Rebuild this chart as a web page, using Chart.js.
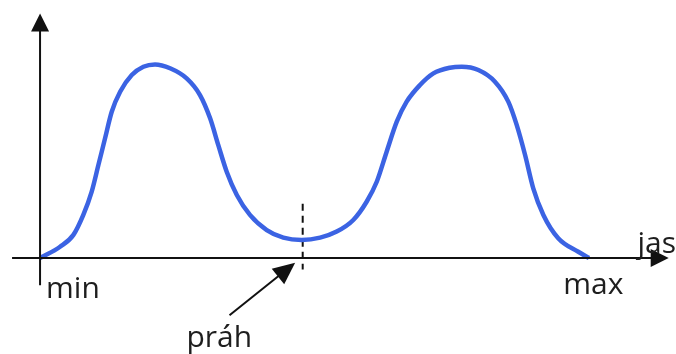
<!DOCTYPE html>
<html>
<head>
<meta charset="utf-8">
<script src="https://cdn.jsdelivr.net/npm/chart.js@4"></script>
<style>
  html, body { margin: 0; padding: 0; background: #fff; }
  #wrap { width: 676px; height: 354px; }
</style>
</head>
<body>
<div id="wrap"><canvas id="graf"></canvas></div>
<script>
// histogram jasu (brightness 0..255, frequency in relative units)
const jas = [0, 9.3, 15.5, 20.1, 24, 27.1, 30.2, 33.3, 37.2, 42.6, 48, 53.4, 60.4, 68.1, 74.3, 79, 82.8, 86.7,
             91.4, 97.5, 105.3, 113, 121.5, 130.1, 137.8, 145.5, 151.7, 156.4, 161, 165.7, 170.3, 176.5, 182.7,
             190.4, 195.9, 203.6, 211.3, 217.5, 221.4, 225.3, 229.1, 233.8, 240.7, 250, 255];
const cetnost = [0, 5.8, 11.9, 22.2, 34.2, 47.9, 61.7, 75.4, 85.7, 94.3, 98.6, 99.8, 97.8, 92.6, 84, 72, 58.2, 44.5,
                 32.5, 22.2, 14.4, 10.5, 9.3, 10.5, 13.6, 19.6, 29, 39.3, 54.8, 70.3, 80.6, 89.2, 95.2,
                 98.1, 98.6, 96.9, 90.9, 80.6, 68.6, 53.1, 35.9, 22.2, 10.2, 3.2, 0];
const prah = 122;
const popisky = { min: "min", max: "max", osa: "jas", prah: "práh" };

const modra = "#3b63e3";
const cerna = "#111";

// osy se sipkami a popisky
const osyPlugin = {
    id: "osy",
    afterDatasetsDraw(chart) {
        const { ctx, scales: { x, y } } = chart;
        const x0 = x.getPixelForValue(0);
        const y0 = y.getPixelForValue(0);
        ctx.save();
        ctx.strokeStyle = cerna;
        ctx.fillStyle = cerna;
        ctx.lineWidth = 2;

        // vodorovna osa
        const xL = x.getPixelForValue(-13), xR = x.getPixelForValue(292);
        ctx.beginPath(); ctx.moveTo(xL, y0); ctx.lineTo(xR - 14, y0); ctx.stroke();
        ctx.beginPath(); ctx.moveTo(xR, y0); ctx.lineTo(xR - 18, y0 - 9); ctx.lineTo(xR - 18, y0 + 9); ctx.closePath(); ctx.fill();

        // svisla osa
        const yB = y.getPixelForValue(-14), yT = y.getPixelForValue(126);
        ctx.beginPath(); ctx.moveTo(x0, yB); ctx.lineTo(x0, yT + 14); ctx.stroke();
        ctx.beginPath(); ctx.moveTo(x0, yT); ctx.lineTo(x0 - 9, yT + 18); ctx.lineTo(x0 + 9, yT + 18); ctx.closePath(); ctx.fill();

        // sipka k prahu
        const ax = x.getPixelForValue(88), ay = y.getPixelForValue(-29.5);
        const bx = x.getPixelForValue(118.5), by = y.getPixelForValue(-2.5);
        const ang = Math.atan2(by - ay, bx - ax);
        const c = Math.cos(ang), s = Math.sin(ang);
        ctx.beginPath(); ctx.moveTo(ax, ay);
        ctx.lineTo(bx - 16 * c, by - 16 * s); ctx.stroke();
        ctx.beginPath(); ctx.moveTo(bx, by);
        ctx.lineTo(bx - 22 * c + 10 * s, by - 22 * s - 10 * c);
        ctx.lineTo(bx - 22 * c - 10 * s, by - 22 * s + 10 * c);
        ctx.closePath(); ctx.fill();

        // popisky
        ctx.fillStyle = "#1e1e1e";
        ctx.font = "30px 'Open Sans'";
        ctx.textBaseline = "alphabetic";
        ctx.textAlign = "left";
        ctx.fillText(popisky.min, x0 + 6, y.getPixelForValue(-20.5));
        ctx.fillText(popisky.max, x.getPixelForValue(243), y.getPixelForValue(-18.5));
        ctx.fillText(popisky.osa, x.getPixelForValue(277.5), y.getPixelForValue(2.5));
        ctx.fillText(popisky.prah, x.getPixelForValue(68), y.getPixelForValue(-46));
        ctx.restore();
    }
};

new Chart(document.getElementById("graf"), {
    type: "line",
    data: {
        datasets: [{
            data: jas.map((v, i) => ({ x: v, y: cetnost[i] })),
            borderColor: modra,
            borderWidth: 4.5,
            pointRadius: 0,
            cubicInterpolationMode: "monotone",
            fill: false
        }, {
            data: [{ x: prah, y: 28 }, { x: prah, y: -6 }],
            borderColor: cerna,
            borderWidth: 2,
            borderDash: [7, 5],
            pointRadius: 0
        }]
    },
    options: {
        responsive: true, maintainAspectRatio: false,
        animation: false,
        layout: { padding: 0 },
        plugins: { legend: { display: false }, tooltip: { enabled: false } },
        scales: {
            x: { type: "linear", min: -18.6, max: 295.4, display: false },
            y: { min: -49.5, max: 133, display: false }
        }
    },
    plugins: [osyPlugin]
});
</script>
</body>
</html>
